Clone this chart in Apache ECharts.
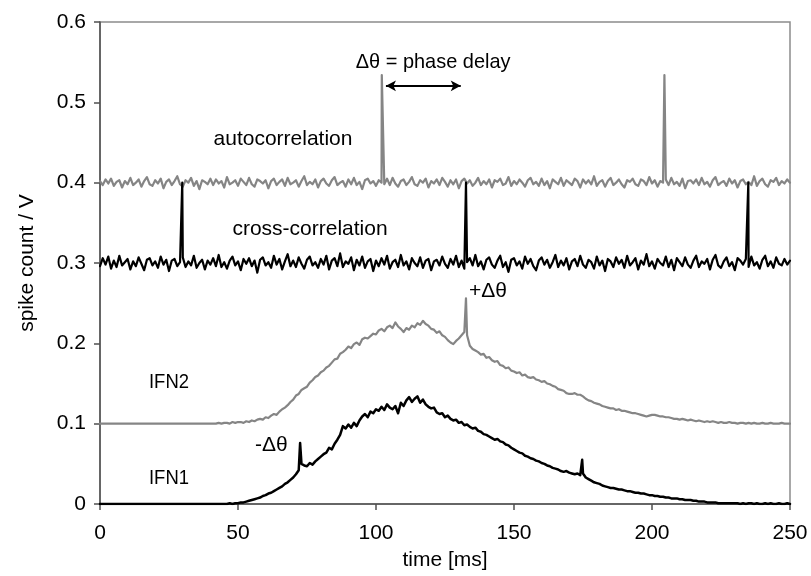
<!DOCTYPE html>
<html>
<head>
<meta charset="utf-8">
<script src="https://cdn.jsdelivr.net/npm/echarts@6/dist/echarts.min.js"></script>
<style>
  html, body { margin: 0; padding: 0; background: #ffffff; }
  #chart { width: 811px; height: 576px; }
</style>
</head>
<body>
<div id="chart"></div>
<script>
// ---------------- DATA (millivolts, 1 ms per sample starting at 0 ms) ----------------
const sampleStepMs = 1;

const xTickValues = [0, 50, 100, 150, 200, 250];
const yTickValues = [0, 0.1, 0.2, 0.3, 0.4, 0.5, 0.6];

// autocorrelation (grey), 0..250 ms
const autocorrelation_mV = [
 402,397,404,399,405,396,401,403,394,402, 398,406,397,400,404,395,402,407,398,396,
 403,399,405,393,401,404,397,402,408,398, 395,403,400,406,396,402,392,403,401,398,
 405,397,404,399,402,394,407,398,400,403, 396,405,401,397,406,398,395,404,402,399,
 403,393,402,405,397,401,404,396,406,398, 400,403,395,402,408,397,401,398,404,394,
 402,405,399,396,403,407,397,400,402,395, 404,398,406,397,401,392,403,405,399,402,
 396,403,400,398,405,397,406,399,395,402, 404,397,401,407,398,396,403,400,405,394,
 402,399,404,397,406,401,395,403,398,404, 393,402,405,399,403,396,400,406,397,402,
 398,404,394,403,401,405,397,399,407,396, 402,398,404,400,395,403,406,398,401,396,
 405,397,402,393,404,401,398,406,396,403, 400,397,405,402,394,404,399,403,398,408,
 396,401,403,395,402,406,397,400,404,398, 394,403,401,405,398,396,404,402,397,407,
 399,403,395,402,400,404,397,406,398,401, 396,405,393,402,403,399,404,397,406,398,
 401,395,403,407,397,400,402,396,405,399, 403,394,402,404,398,401,397,408,396,402,
 405,398,395,403,401,406,397,402,399,404, 400
];
const autocorrelationPeaks_mV = [[102.1, 534], [204.5, 534]];

// cross-correlation (black), 0..250 ms
const crossCorrelation_mV = [
 296,306,298,308,293,303,295,309,297,301, 305,292,302,296,307,299,291,304,306,297,
 302,294,308,298,304,290,303,305,296,301, 307,295,302,297,309,294,300,304,292,303,
 298,306,296,310,295,301,293,303,308,297, 302,291,305,299,306,296,303,288,304,307,
 297,301,294,309,298,305,292,302,311,296, 303,295,307,299,293,304,308,297,301,294,
 305,298,309,292,303,306,296,312,295,302, 299,307,291,304,297,308,294,302,305,290,
 303,296,306,298,309,293,301,304,295,310, 297,302,292,306,300,296,307,294,303,305,
 291,302,304,297,308,299,294,305,298,309, 295,303,293,301,306,297,310,296,302,292,
 304,307,298,294,303,309,295,301,289,304, 306,297,302,293,308,299,305,296,291,303,
 307,298,304,294,301,310,295,303,297,306, 292,302,305,296,309,298,294,304,301,293,
 308,297,303,290,305,302,295,307,299,304, 294,309,297,301,306,292,303,298,311,296,
 302,293,305,300,297,308,295,304,291,306, 301,296,307,298,294,303,309,295,302,299,
 305,292,304,310,297,294,302,307,296,301, 291,306,303,298,305,295,308,297,301,293,
 304,309,296,302,294,307,299,297,305,298, 303
];
const crossCorrelationPeaks_mV = [[29.8, 400], [132.6, 400], [234.9, 400]];

// IFN2 (grey), 0..250 ms
const ifn2_mV = [
 100,100,100,100,100,100,100,100,100,100, 100,100,100,100,100,100,100,100,100,100,
 100,100,100,100,100,100,100,100,100,100, 100,100,100,100,100,100,100,100,100,100,
 100,100,100,101,100,101,101,100,102,101, 102,
 102,101,103,102,104,103,105,106,105,108,
 107,110,112,111,115,118,120,123,127,130,
 135,137,142,144,146,151,154,158,160,164,
 166,170,172,176,180,181,187,189,192,196,
 194,199,201,198,205,207,206,209,212,211,
 216,218,215,220,222,219,226,221,218,214,
 219,217,222,220,225,223,228,224,222,218,
 217,213,215,210,208,204,201,199,203,206,
 210,214,210,197,193,191,189,186,187,182,
 183,179,177,178,173,172,169,170,166,165,
 163,164,160,161,158,157,158,155,154,152,
 153,150,149,147,146,143,142,141,138,137,
 137,138,136,136,134,131,129,128,126,125,
 124,122,121,120,119,119,117,118,116,116,
 115,114,113,113,112,111,110,109,110,111,
 111,110,109,109,108,108,107,106,106,105,
 106,105,104,105,104,103,104,103,102,103,
 102,103,102,101,102,101,101,102,101,101,
 100,101,101,100,101,100,101,100,100,101,
 100,100,101,100,100,100,101,100,100,100
];
const ifn2Peaks_mV = [[132.6, 256]];

// IFN1 (black), 0..250 ms
const ifn1_mV = [
 0,0,0,0,0,0,0,0,0,0, 0,0,0,0,0,0,0,0,0,0,
 0,0,0,0,0,0,0,0,0,0, 0,0,0,0,0,0,0,0,0,0,
 0,0,0,0,0,0, 0,1,0,1,1,
 2,2,3,4,5,6,7,8,10,11,
 13,14,16,18,20,22,25,27,30,33,
 37,42,50,48,47,51,49,53,56,59,
 62,64,70,68,75,80,86,97,94,99,
 95,101,97,104,109,112,108,115,113,118,
 116,121,117,124,120,118,122,113,126,122,
 129,133,127,131,134,126,130,124,121,119,
 120,114,112,113,108,110,106,104,105,101,
 102,98,99,96,94,95,91,90,87,86,
 84,82,80,81,78,77,74,73,70,68,
 66,64,63,60,59,57,56,54,53,51,
 50,48,47,45,44,43,41,40,41,39,
 38,37,38,36,38,33,31,29,27,26,
 25,23,22,21,20,20,19,18,18,17,
 16,16,15,14,14,13,13,12,11,11,
 10,10,9,9,8,8,7,7,7,6,
 6,5,5,5,4,4,3,3,3,2,
 2,2,2,1,1,1,1,1,1,1,
 1,0,1,0,1,1,0,1,0,0,
 1,0,1,0,0,1,0,0,1,0
];
const ifn1Peaks_mV = [[72.5, 76], [174.7, 55]];

// text annotations anchored in data coordinates [time ms, volts]
const annotationTexts = ['Δθ = phase delay', 'autocorrelation', 'cross-correlation', '+Δθ', 'IFN2', '-Δθ', 'IFN1'];
const annotationAnchors = [[120.7, 0.550], [66.3, 0.4545], [76.1, 0.3425], [140.6, 0.2655], [25, 0.151], [62.1, 0.0735], [25, 0.032]];
const annotationSqueeze = [0.95, 1, 1, 1, 0.88, 1, 0.88];

// phase-delay arrow (data coordinates)
const phaseArrowFrom = [103.6, 0.5205];
const phaseArrowTo = [130.7, 0.5205];

// ---------------- CHART ----------------
const FONT = "'Liberation Sans', Arial, sans-serif";
const GREY = '#858585';

function buildSeriesData(values_mV, peaks_mV) {
  const pts = values_mV.map((mv, i) => [i * sampleStepMs, mv / 1000]);
  peaks_mV.forEach(p => pts.push([p[0], p[1] / 1000]));
  pts.sort((a, b) => a[0] - b[0]);
  return pts;
}

const chart = echarts.init(document.getElementById('chart'), null, { renderer: 'canvas' });

function lineSeries(name, data, color, width, extra) {
  return Object.assign({
    name, type: 'line', data, showSymbol: false, symbol: 'none',
    sampling: 'none', animation: false, silent: true,
    lineStyle: { color, width, join: 'round', cap: 'round' }
  }, extra || {});
}

chart.setOption({
  animation: false,
  backgroundColor: '#ffffff',
  grid: { left: 100, right: 21, top: 22, bottom: 72, show: true, borderColor: '#8c8c8c', borderWidth: 1.5, backgroundColor: 'transparent' },
  xAxis: {
    type: 'value', min: xTickValues[0], max: xTickValues[xTickValues.length - 1], interval: 50,
    name: 'time [ms]', nameLocation: 'middle', nameGap: 46,
    nameTextStyle: { fontFamily: FONT, fontSize: 21, color: '#000' },
    axisLine: { show: true, onZero: false, lineStyle: { color: '#505050', width: 1.5 } },
    axisTick: { show: true, inside: false, length: 6, lineStyle: { color: '#505050', width: 1.5 } },
    axisLabel: { fontFamily: FONT, fontSize: 21, color: '#000', margin: 19 },
    splitLine: { show: false }
  },
  yAxis: {
    type: 'value', min: yTickValues[0], max: yTickValues[yTickValues.length - 1], interval: 0.1,
    name: 'spike count / V', nameLocation: 'middle', nameGap: 62, nameRotate: 90,
    nameTextStyle: { fontFamily: FONT, fontSize: 21, color: '#000' },
    axisLine: { show: true, onZero: false, lineStyle: { color: '#505050', width: 1.5 } },
    axisTick: { show: true, inside: false, length: 6, lineStyle: { color: '#505050', width: 1.5 } },
    axisLabel: { fontFamily: FONT, fontSize: 21, color: '#000', margin: 14 },
    splitLine: { show: false }
  },
  series: [
    lineSeries('autocorrelation', buildSeriesData(autocorrelation_mV, autocorrelationPeaks_mV), GREY, 2.2, {
      markLine: {
        silent: true, animation: false,
        symbol: ['arrow', 'arrow'], symbolSize: [8, 10],
        label: { show: false },
        lineStyle: { color: '#000', width: 2, type: 'solid' },
        data: [[{ coord: phaseArrowFrom }, { coord: phaseArrowTo }]]
      }
    }),
    lineSeries('cross-correlation', buildSeriesData(crossCorrelation_mV, crossCorrelationPeaks_mV), '#000000', 2.2),
    lineSeries('IFN2', buildSeriesData(ifn2_mV, ifn2Peaks_mV), GREY, 2.2),
    lineSeries('IFN1', buildSeriesData(ifn1_mV, ifn1Peaks_mV), '#000000', 2.5)
  ]
});

const graphics = annotationTexts.map((txt, i) => {
  const p = chart.convertToPixel({ gridIndex: 0 }, annotationAnchors[i]);
  return {
    type: 'text', x: p[0], y: p[1], scaleX: annotationSqueeze[i], silent: true, z: 100,
    style: { text: txt, x: 0, y: 0, fill: '#000', fontFamily: FONT, fontSize: 21, align: 'center', verticalAlign: 'middle' }
  };
});
chart.setOption({ graphic: graphics });
</script>
</body>
</html>
